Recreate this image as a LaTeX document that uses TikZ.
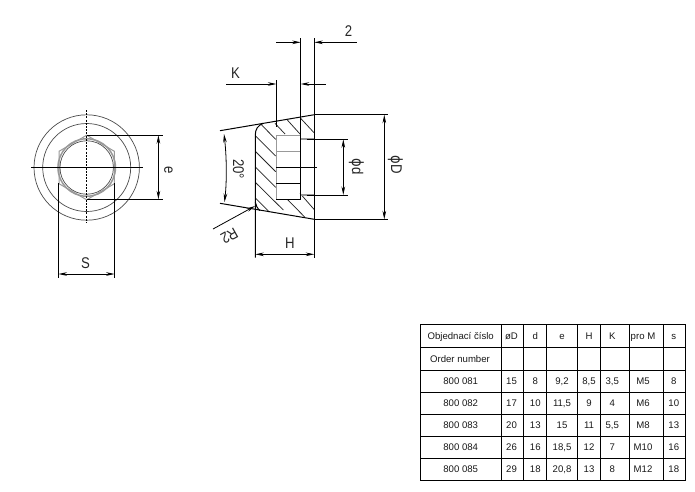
\documentclass[tikz,border=0pt]{standalone}
\usepackage{fontspec}
\setmainfont{Liberation Sans}
\newfontfamily\dejavufont[FakeStretch=0.85]{DejaVu Sans}
\newfontfamily\dimfont[FakeStretch=0.85]{Liberation Sans}
\usetikzlibrary{arrows.meta}
\definecolor{ringgray}{gray}{0.3}
\definecolor{threadgray}{gray}{0.6}
\newcommand{\phisign}{{\dejavufont ϕ}}
\tikzset{
  x=1pt,y=-1pt,
  mainline/.style={draw=black,line width=1pt},
  thinline/.style={draw=black,line width=0.75pt},
  hatchline/.style={draw=black!85,line width=0.75pt},
  greyline/.style={draw=threadgray,line width=1.3pt},
  ringline/.style={draw=ringgray,line width=0.7pt},
  dimline/.style={draw=black,line width=0.8pt},
  dimarrow/.style={dimline,-{Stealth[length=8.5pt,width=3.6pt]}},
  dimboth/.style={dimline,{Stealth[length=8.5pt,width=3.6pt]}-{Stealth[length=8.5pt,width=3.6pt]}},
  dimlabel/.style={inner sep=0pt,font=\dimfont\fontsize{15.5}{16}\selectfont,text=black!85},
  cell/.style={inner sep=0pt,anchor=base,font=\fontsize{9.6}{11}\selectfont,text=black!90},
}
\begin{document}
\begin{tikzpicture}
\useasboundingbox (0,0) rectangle (695,491);
\fill[white] (0,0) rectangle (695,491);

% ---------- front view
\coordinate (c) at (86.7,167.5);
\node[ringline,circle,minimum size=105.4pt,inner sep=0pt] (outerring) at (c) {};
\node[ringline,circle,minimum size=88pt,inner sep=0pt] (innerring) at (c) {};
\draw[greyline,line width=1pt] (86.7,135.2) -- (114.4,151.3) -- (114.4,183.7) -- (86.7,199.8) -- (59,183.7) -- (59,151.3) -- cycle;
\node[draw=threadgray,line width=1.5pt,circle,minimum size=57.5pt,inner sep=0pt] (threadouter) at (c) {};
\node[ringline,circle,minimum size=53.5pt,inner sep=0pt] (threadinner) at (c) {};
\coordinate (cvt) at (86.7,110); \coordinate (cvb) at (86.7,223);
\coordinate (chl) at (31,167.5); \coordinate (chr) at (143,167.5);
\draw[draw=black,line width=1pt,dash pattern=on 2pt off 1.2pt] (cvt) -- (cvb);
\draw[thinline] (chl) -- (chr);

% e dimension
\coordinate (et) at (86.7,135.2); \coordinate (eb) at (86.7,199.3);
\coordinate (ete) at (163,135.2); \coordinate (ebe) at (163,199.3);
\coordinate (eat) at (158.4,135.2); \coordinate (eab) at (158.4,199.3);
\draw[dimline] (et) -- (ete);
\draw[dimline] (eb) -- (ebe);
\draw[dimboth] (eat) -- (eab);
\node[dimlabel,rotate=-90] (elabel) at (168.5,170) {e};

% S dimension
\coordinate (sl) at (58.5,183); \coordinate (sr) at (114.6,183);
\coordinate (sle) at (58.5,278); \coordinate (sre) at (114.6,278);
\coordinate (sal) at (58.5,274); \coordinate (sar) at (114.6,274);
\draw[dimline] (sl) -- (sle);
\draw[dimline] (sr) -- (sre);
\draw[dimboth] (sal) -- (sar);
\node[dimlabel] (slabel) at (85.5,263) {S};

% ---------- section: hatching
\foreach \xa/\ya/\xb/\yb in {
  35/45/77/88, 17/78/77/138, 17/125/77/185, 17/172/77/232, 17/218/100/300, 17/265/55/303,
  75/40/105/72, 112/30/150/72, 152/25/192/68, 112/268/165/322, 150/250/192/298}
{
  \draw[hatchline] ({250+\xa/3},{110+\ya/3}) -- ({250+\xb/3},{110+\yb/3});
}

% section: bore
\coordinate (bl) at (276.4,135.2);
\coordinate (br) at (300.7,135.2);
\draw[greyline] (276.4,199.3) -- (bl) -- (br);
\draw[greyline] (276.4,151.6) -- (300.7,151.6);
\draw[greyline] (300.7,138.9) -- (314.3,138.9);
\draw[greyline] (300.7,195) -- (314.3,195);
\draw[mainline] (276.4,199.3) -- (300.7,199.3);
\draw[thinline] (276.4,167.7) -- (316.7,167.7);
\draw[thinline] (276.4,183.3) -- (300.7,183.3);

% section: outline
\coordinate (tl) at (220,130.7);
\coordinate (tr) at (314.3,114.7);
\coordinate (bbl) at (220,203.3);
\coordinate (bbr) at (314.3,219.3);
\draw[mainline] (tl) -- (tr);
\draw[mainline] (bbl) -- (bbr);
\draw[mainline] (255.3,257.7) -- (255.3,135) .. controls (255.3,129) and (258,125.5) .. (263,123.4);
\draw[mainline] (255.3,202) .. controls (255.8,205) and (257,208) .. (260,210.6);
\draw[mainline] (314.3,38) -- (314.3,258);
\draw[mainline] (300.7,38) -- (300.7,199.3);
\draw[mainline] (276.4,80) -- (276.4,127);

% 2 dimension
\coordinate (twol) at (276,42.3); \coordinate (twola) at (300.7,42.3);
\coordinate (twor) at (356.7,42.3); \coordinate (twora) at (314.3,42.3);
\draw[dimarrow] (twol) -- (twola);
\draw[dimarrow] (twor) -- (twora);
\node[dimlabel] (twolabel) at (348.5,31) {2};

% K dimension
\coordinate (kl) at (226,84); \coordinate (kla) at (276.4,84);
\coordinate (kr) at (325.7,84); \coordinate (kra) at (300.7,84);
\draw[dimarrow] (kl) -- (kla);
\draw[dimarrow] (kr) -- (kra);
\node[dimlabel] (klabel) at (235.5,73) {K};

% D dimension
\coordinate (dte) at (387.7,114.7); \coordinate (dbe) at (387.7,219.3);
\coordinate (dat) at (384.3,114.7); \coordinate (dab) at (384.3,219.3);
\draw[dimline] (tr) -- (dte);
\draw[dimline] (bbr) -- (dbe);
\draw[dimboth] (dat) -- (dab);
\node[dimlabel,rotate=-90] (Dlabel) at (395.5,165) {\phisign D};

% d dimension
\coordinate (dsa) at (306.5,139.3); \coordinate (dsb) at (347.7,139.3);
\coordinate (dsc) at (306.5,195); \coordinate (dsd) at (347.7,195);
\coordinate (dsat) at (343.3,139.3); \coordinate (dsab) at (343.3,195);
\draw[dimline] (dsa) -- (dsb);
\draw[dimline] (dsc) -- (dsd);
\draw[dimboth] (dsat) -- (dsab);
\node[dimlabel,rotate=-90] (dlabel) at (356.5,167) {\phisign d};

% H dimension
\coordinate (hal) at (255.3,254.3); \coordinate (har) at (314.3,254.3);
\draw[dimboth] (hal) -- (har);
\node[dimlabel] (hlabel) at (290,243) {H};

% 20 deg
\coordinate (ang1) at (224,134); \coordinate (ang2) at (224.5,202);
\draw[dimboth] (ang1) .. controls (226.5,155) and (227,180) .. (ang2);
\node[dimlabel,rotate=-90] (anglabel) at (238.5,169) {20°};

% R2
\coordinate (rs) at (213,229); \coordinate (re) at (255,206);
\draw[dimarrow] (rs) -- (re);
\node[dimlabel,rotate=209] (rlabel) at (229.5,236) {R2};

% ---------- table
\draw[mainline] (420.7,324) rectangle (685,480.7);
\foreach \xx in {501,523.7,546.3,577.7,600.3,629,663}
  \draw[thinline] (\xx,324) -- (\xx,480.7);
\foreach \yy in {347.3,370,392.3,414.3,436.3,458.3}
  \draw[thinline] (420.7,\yy) -- (685,\yy);

\foreach \rownum/\yy/\a/\b/\cc/\dd/\ee/\ff/\gg/\hh in {
  1/339/Objednací číslo/øD/d/e/H/K/pro M/s,
  3/384/800 081/15/8/{9,2}/{8,5}/{3,5}/M5/8,
  4/406.5/800 082/17/10/{11,5}/9/4/M6/10,
  5/428.5/800 083/20/13/15/11/{5,5}/M8/13,
  6/450.5/800 084/26/16/{18,5}/12/7/M10/16,
  7/472.5/800 085/29/18/{20,8}/13/8/M12/18}
{
  \node[cell] (r\rownum c1) at (460.7,\yy) {\a};
  \node[cell] (r\rownum c2) at (511.5,\yy) {\b};
  \node[cell] (r\rownum c3) at (535.3,\yy) {\cc};
  \node[cell] (r\rownum c4) at (562,\yy) {\dd};
  \node[cell] (r\rownum c5) at (589,\yy) {\ee};
  \node[cell] (r\rownum c6) at (612.3,\yy) {\ff};
  \node[cell] (r\rownum c7) at (643,\yy) {\gg};
  \node[cell] (r\rownum c8) at (673.8,\yy) {\hh};
}
\node[cell] (r2c1) at (460,362) {Order number};
\end{tikzpicture}
\end{document}
